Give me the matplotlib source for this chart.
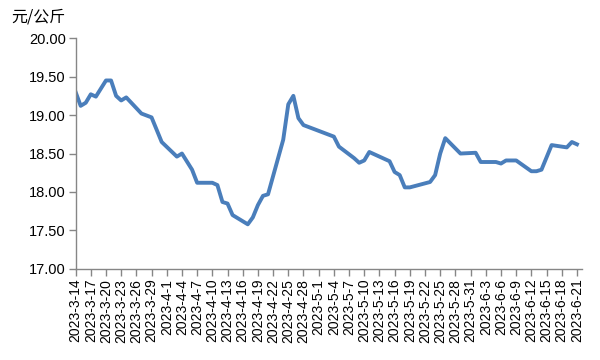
import matplotlib
matplotlib.use("Agg")
import matplotlib.pyplot as plt
import pandas as pd

plt.rcParams["font.family"] = ["Liberation Sans", "Noto Sans CJK SC", "DejaVu Sans"]

# 价格数据（元/公斤）
dates = [
    "2023-3-14", "2023-3-15", "2023-3-16", "2023-3-17", "2023-3-18",
    "2023-3-20", "2023-3-21", "2023-3-22", "2023-3-23", "2023-3-24",
    "2023-3-27", "2023-3-29", "2023-3-31", "2023-4-3", "2023-4-4",
    "2023-4-6", "2023-4-7", "2023-4-10", "2023-4-11", "2023-4-12",
    "2023-4-13", "2023-4-14", "2023-4-17", "2023-4-18", "2023-4-19",
    "2023-4-20", "2023-4-21", "2023-4-24", "2023-4-25", "2023-4-26",
    "2023-4-27", "2023-4-28", "2023-5-4", "2023-5-5", "2023-5-8",
    "2023-5-9", "2023-5-10", "2023-5-11", "2023-5-15", "2023-5-16",
    "2023-5-17", "2023-5-18", "2023-5-19", "2023-5-23", "2023-5-24",
    "2023-5-25", "2023-5-26", "2023-5-29", "2023-6-1", "2023-6-2",
    "2023-6-5", "2023-6-6", "2023-6-7", "2023-6-9", "2023-6-12",
    "2023-6-13", "2023-6-14", "2023-6-16", "2023-6-19", "2023-6-20",
    "2023-6-21",
]
prices = [
    19.30, 19.12, 19.16, 19.27, 19.24,
    19.45, 19.45, 19.25, 19.19, 19.23,
    19.02, 18.97, 18.65, 18.46, 18.50,
    18.29, 18.12, 18.12, 18.09, 17.87,
    17.85, 17.70, 17.58, 17.67, 17.83,
    17.95, 17.97, 18.68, 19.14, 19.25,
    18.96, 18.87, 18.72, 18.59, 18.44,
    18.38, 18.41, 18.52, 18.40, 18.26,
    18.22, 18.06, 18.06, 18.13, 18.22,
    18.50, 18.70, 18.50, 18.51, 18.39,
    18.39, 18.37, 18.41, 18.41, 18.27,
    18.27, 18.29, 18.61, 18.58, 18.65,
    18.62,
]

x = pd.to_datetime(dates, format="%Y-%m-%d")
tick_dates = pd.date_range("2023-03-14", "2023-06-21", freq="3D")
tick_labels = [f"{d.year}-{d.month}-{d.day}" for d in tick_dates]
y_ticks = [17.0, 17.5, 18.0, 18.5, 19.0, 19.5, 20.0]

fig = plt.figure(figsize=(6, 3.6), dpi=100)
ax = fig.add_axes([0.126, 0.253, 0.844, 0.641])

ax.plot(x, prices, color="#4a7ebb", linewidth=2.8, solid_joinstyle="round")

ax.set_xlim(pd.Timestamp("2023-03-14"), pd.Timestamp("2023-06-22"))
ax.set_ylim(17.0, 20.0)

ax.set_xticks(tick_dates)
ax.set_xticklabels(tick_labels, rotation=90, fontsize=10)
ax.set_yticks(y_ticks)
ax.set_yticklabels([f"{v:.2f}" for v in y_ticks], fontsize=10.5)

for side in ("top", "right"):
    ax.spines[side].set_visible(False)
for side in ("left", "bottom"):
    ax.spines[side].set_color("#868686")
    ax.spines[side].set_linewidth(1)
ax.tick_params(axis="both", color="#868686", length=5, width=1, pad=2)

fig.text(0.018, 0.952, "元/公斤", fontsize=11.5, ha="left", va="center",
         family=["Noto Sans CJK SC", "DejaVu Sans"])

fig.savefig("out.png", dpi=100)
